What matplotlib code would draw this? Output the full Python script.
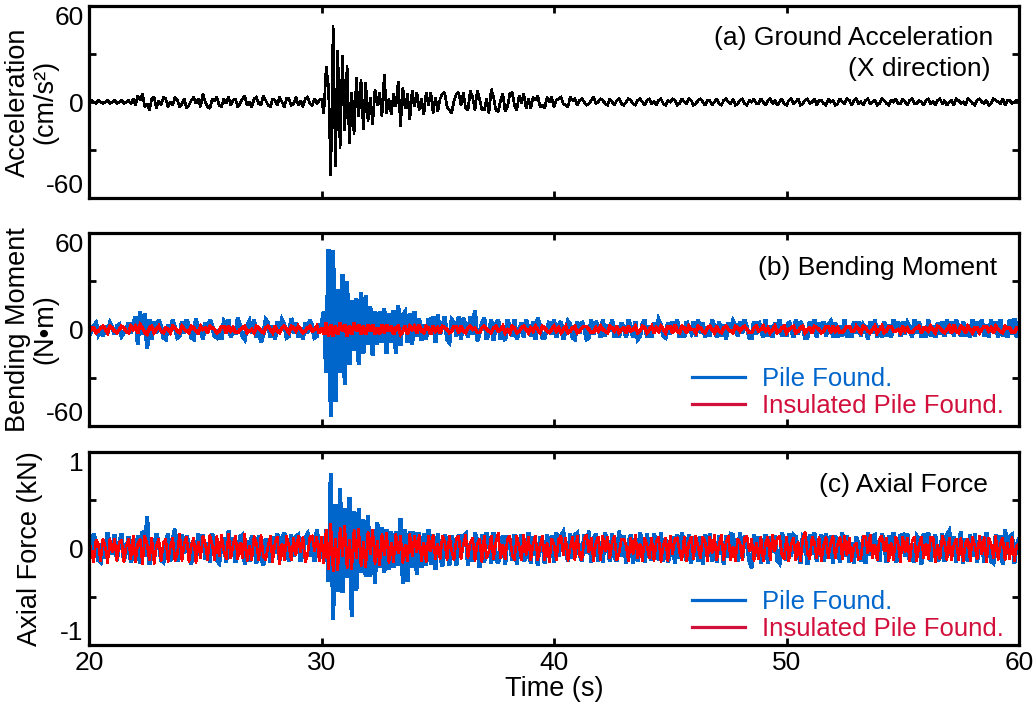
import numpy as np
import matplotlib
matplotlib.use("Agg")
import matplotlib.pyplot as plt
from matplotlib.lines import Line2D

plt.rcParams["font.family"] = ["Liberation Sans", "DejaVu Sans"]
plt.rcParams["font.size"] = 19

# Sampling of the records (s)
T_START = 20.0
T_STEP = 0.1

# (a) ground acceleration, X direction (cm/s^2), one row per second
GROUND_ACC = [
    0, 1, 0, -1, 1, 0, -1, 0, 1, -1,
    0, 1, -1, 0, 1, -1, 0, 1, -1, 2,
    -2, 4, 1, 5, -3, -1, -5, 2, 3, -4,
    1, -2, 3, 2, -3, 0, -2, 3, 1, -3,
    -1, 2, -4, -2, 1, 3, -1, 2, -3, 5,
    0, -3, -4, 2, 1, 3, -2, -3, 2, -1,
    3, -2, 1, 2, -3, -1, 2, 4, -2, 0,
    -3, 2, 3, -1, -2, 4, 1, -2, -3, 2,
    1, -2, 3, 0, -3, 2, 2, -2, -1, 3,
    -2, 1, -3, 2, 3, -1, -2, 2, -1, 1,
    2, -7, 22, 10, -46, 48, -40, 32, -29, 29,
    -18, 23, -26, 6, -20, 15, -9, 14, -17, 12,
    -12, 3, -14, 8, -2, 6, -9, 17, -7, 2,
    -8, 5, -3, 13, -15, 9, -4, 5, -11, 7,
    -3, 6, -5, 2, -8, 6, -2, 6, -7, 3,
    -6, 2, 5, 6, -3, -5, -7, 1, 5, 6,
    -2, 6, -4, -5, 7, 3, -5, 7, 2, -5,
    -5, 2, -7, 8, 3, -5, -6, 1, 5, -6,
    -3, 5, 6, -2, -5, 4, -1, 5, -4, 2,
    -4, 3, 1, 4, -3, -2, -4, 3, 0, 3,
    -3, 1, 2, 3, -1, -2, -3, 3, 1, 2,
    -2, 1, 2, 0, -2, -1, 1, 3, -1, 0,
    2, 1, -1, -2, 2, 0, -2, 1, 2, -1,
    -2, 0, 2, 1, -1, -2, 1, 2, 0, -2,
    1, 2, -1, 0, -2, 1, 2, -1, -2, 1,
    0, 2, 1, -2, -1, 2, 0, -1, 2, 1,
    -2, -1, 1, 2, 0, -2, 1, 1, -2, 0,
    2, -1, -2, 1, 2, 0, -1, 2, -2, -1,
    1, 2, -1, -2, 1, 0, 2, -1, -1, 2,
    0, -2, 1, 2, -1, 1, -2, 0, 2, -1,
    -2, 1, 2, -1, 0, 2, -2, -1, 1, 2,
    -1, 0, 2, -2, 1, 1, -1, -2, 2, 0,
    1, -2, -1, 2, 0, -1, 2, 1, -2, 1,
    2, -1, 0, -2, 1, 2, -1, 0, 1, -2,
    -1, 2, 1, -1, -2, 1, 0, 2, -1, -1,
    2, 0, -2, 1, 2, -1, -1, 1, 0, -2,
    1, 2, -1, 0, -2, 1, 2, -1, 1, -2,
    0, 1, -2, 2, 1, -1, 0, -2, 2, 1,
    -1, -2, 1, 2, 0, -1, 1, -2, -1, 2,
    1, 0, -1, 2, -2, 1, 1, -1, 0, 1,
    0,
]

# (b) bending moment (N*m): conventional pile foundation
BM_PILE = [
    3, -1, 2, 4, -3, 0, -4, 2, -2, 4,
    1, -3, 2, 3, -4, -2, 0, 4, -2, 3,
    8, -9, 11, -3, 10, -12, 6, -6, 5, -2,
    6, 2, -5, -6, 3, -1, 6, 1, -5, -4,
    5, -2, 6, 2, -5, -6, 7, -3, 2, -6,
    4, -1, 6, 2, -4, -5, 0, -6, 5, 3,
    6, -5, 1, -3, 7, 2, -4, -6, 2, 5,
    -2, 6, -5, 1, -8, -3, 6, 4, -5, 2,
    -6, 5, -1, 6, 3, -5, -4, 7, -2, 4,
    -5, 1, -6, 4, -2, 6, 2, -5, -4, 3,
    3, 11, -27, 50, -54, 49, -45, 25, -27, 34,
    -34, 30, -22, 18, -13, 19, -22, 23, -15, 21,
    -9, 14, -16, 11, -9, 11, -8, 13, -15, 10,
    -8, 12, -15, 15, -10, 9, 11, -8, 10, -9,
    11, -4, 7, -7, 3, -6, 7, -2, 8, -8,
    9, -3, 2, 8, -6, -8, 6, 4, -4, 8,
    -6, 7, 2, -5, 8, -3, 12, -7, -2, 4,
    7, -6, -2, 6, -7, 3, 6, -6, 1, -7,
    6, 2, -4, 6, -6, -1, 4, -5, 6, 1,
    -4, 5, -6, 7, 2, -5, -5, 1, 5, -3,
    6, -5, 2, 5, -6, -1, 5, 3, -5, -6,
    5, -2, 5, 1, -6, -5, 6, -3, 5, 2,
    -5, 6, -4, 3, -1, 6, -5, 2, -5, 4,
    1, -5, 6, 2, -5, 5, -6, -4, 3, 6,
    -5, 2, -5, 4, -1, 6, 3, -4, -5, 4,
    -3, 5, -1, 6, -5, 2, -5, 5, 1, -2,
    5, -4, 6, -2, 4, -5, 1, -4, 6, 2,
    -5, 5, -4, 3, -6, 4, -1, 5, 2, -4,
    5, -2, 6, 1, -5, -5, 5, -3, 5, 1,
    -5, 6, -4, 2, -5, 4, -2, 6, -4, 3,
    -4, 5, 1, -5, 6, -3, 5, 2, -5, -5,
    5, -2, 6, -5, 4, -1, 5, -4, 3, 5,
    -5, 4, -5, 2, -4, 6, -5, 1, -5, 5,
    -2, 5, -4, 3, 1, -6, 5, -2, 6, -5,
    2, -5, 5, -4, 3, -5, 6, -1, 5, -4,
    5, -3, 4, 1, -5, 6, -2, 5, -5, 1,
    -5, 6, -4, 2, -5, 4, -3, 5, -4, 6,
    -2, 5, -4, 6, 1, -4, 5, -4, 3, -5,
    6, -4, 5, -2, 6, -4, 3, -5, 6, -1,
    5, -5, 6, -4, 2, -5, 6, -3, 7, -5,
    4,
]

# (b) bending moment (N*m): insulated pile foundation
BM_INSULATED = [
    2, 0, 1, -2, -1, 1, 2, 0, -2, 2,
    1, -1, -2, 0, 2, 1, -1, -2, 2, 0,
    2, -2, 3, 1, -2, -3, 1, 2, -2, 0,
    2, -1, -2, 1, 0, -2, 2, 1, -1, -2,
    2, 0, -1, -2, 2, 1, -1, -2, 2, 0,
    1, -2, 2, 1, 0, -2, -1, 2, 2, -2,
    2, -1, 1, -2, -2, 0, 1, 2, -2, -1,
    0, -2, 2, 1, -1, -2, 1, 2, 0, -2,
    2, -1, -2, 1, 2, 0, -2, 2, 1, -1,
    2, 0, -2, -1, 1, 2, -1, 0, 2, -2,
    1, -3, 4, -4, 3, -4, 2, -3, 4, -1,
    3, -4, 2, -3, 4, -1, 3, -3, 2, -3,
    3, -1, 3, -3, 1, -3, 3, -2, 3, -1,
    2, -3, 1, 2, -3, -1, 2, -3, 2, 0,
    2, -2, 3, -1, -2, 2, 1, -3, 2, -1,
    1, -2, 2, 1, 0, -2, -1, 2, 2, -2,
    2, -1, -2, 1, 2, 0, 1, -2, -2, 1,
    2, 0, -1, -2, 1, 2, -1, 0, 2, -2,
    0, -2, 2, 1, -2, -1, 1, 2, 0, -2,
    1, -1, 2, 0, -2, 2, 1, -1, -2, 0,
    2, -1, 1, -2, 0, 2, -2, -1, 1, 2,
    -2, -1, 1, 2, 2, 0, -2, -2, 1, -1,
    2, 0, -1, -2, 2, 1, -1, 2, -2, 0,
    1, -2, 2, -1, 0, 2, -2, -1, 2, 1,
    -2, 0, 2, -2, 1, -1, 2, 0, -2, 2,
    2, -2, 3, -1, -2, 2, 1, -2, 2, 0,
    0, -2, 2, 1, -1, -2, 1, 2, 0, -2,
    2, -1, -2, 1, 2, 0, -1, -2, 2, 1,
    -1, 1, 2, 0, -2, -2, 1, 2, -1, 0,
    2, -1, 1, -2, 0, 2, -2, -1, 1, 2,
    -2, 0, 1, 2, -2, -1, 1, 2, -2, 0,
    1, -2, 2, 1, 0, -2, -1, 2, 2, -2,
    2, -1, 1, -2, -2, 0, 2, 2, -1, -1,
    2, 0, -2, 2, 1, -1, -2, 0, 2, -2,
    0, 2, -2, -1, 2, 2, -1, -1, 0, -2,
    2, -1, 1, -2, -2, 0, 1, 2, -2, 1,
    1, -1, 2, 0, -2, 2, 1, -1, -2, 0,
    2, -2, 3, -1, -2, 2, 1, -2, 2, 0,
    -2, 1, 1, -2, 0, 2, 2, -1, 1, -2,
    2, 0, -1, -2, 2, 1, 1, -2, -2, 1,
    1,
]

# (c) axial force (kN): conventional pile foundation
AXIAL_PILE = [
    .12, -.04, .15, .06, -.12, -.14, .09, -.1, .16, .03,
    -.06, .14, -.12, .05, .15, -.13, -.02, .12, -.14, .07,
    -.12, .13, -.15, .18, -.08, .33, -.16, .1, -.12, .15,
    .05, -.12, -.14, .04, .15, -.13, .09, .2, -.13, -.06,
    .14, -.05, .13, .04, -.16, .08, -.13, .15, -.03, .14,
    -.11, .06, -.14, .15, .09, -.12, -.15, .04, .11, -.14,
    .18, -.07, .11, -.14, -.03, .12, .14, -.16, .08, -.13,
    .13, .04, -.15, .13, -.09, -.17, .1, .06, -.14, .12,
    -.05, .15, -.12, .1, .16, -.04, -.13, .14, -.08, .12,
    .14, -.13, -.06, .11, .15, -.08, .12, -.13, .2, -.05,
    .08, -.12, .2, -.34, .78, -.74, .46, -.45, .62, -.46,
    .41, -.3, .53, -.7, .38, -.43, .41, -.25, .3, -.29,
    .34, -.29, .2, -.36, .27, -.2, .22, -.25, .2, -.22,
    .18, -.2, .17, -.18, .31, -.36, .2, -.34, .18, -.2,
    .17, -.27, .16, -.2, .15, -.18, .2, -.16, .14, -.22,
    .15, -.06, -.18, .14, .09, -.17, .13, .04, -.17, .14,
    -.08, .13, .15, -.17, .05, -.13, .16, .09, -.2, .14,
    -.14, .16, .06, -.15, .16, -.1, -.15, .04, .13, -.16,
    .13, .07, -.12, .14, -.16, .05, .14, -.13, -.09, .16,
    -.15, .12, .04, -.17, .12, .08, -.15, .14, -.06, .13,
    -.14, .16, -.08, .13, .17, -.03, -.13, .15, -.1, .14,
    .16, -.06, -.13, .14, -.05, .18, -.14, .09, .15, -.13,
    .07, -.14, .16, .05, -.13, .15, -.09, -.13, .18, -.08,
    .13, -.15, .05, .14, -.15, .1, -.13, .16, .04, -.14,
    .15, -.08, -.12, .15, .06, -.12, .16, -.13, .09, -.14,
    -.05, .12, -.15, .14, -.1, .16, .04, -.12, .14, -.15,
    .12, .06, -.13, .12, -.16, .14, -.08, .15, -.13, .04,
    -.14, .13, .05, -.16, .13, -.09, .15, .14, -.07, -.13,
    .16, -.1, .13, .05, -.12, -.2, .14, -.08, .12, -.15,
    .06, .14, -.15, .12, -.04, .13, -.12, -.15, .16, .07,
    -.12, .15, -.08, .14, .12, -.04, -.15, .12, .09, -.16,
    .14, -.06, .16, -.13, .05, .14, -.13, .15, -.1, .13,
    -.15, .13, .04, -.14, .16, -.08, .13, -.14, .06, -.15,
    .12, .05, -.13, .12, -.15, .16, -.07, .13, .14, -.09,
    -.13, .15, .06, -.14, .13, -.04, .16, -.14, -.1, .13,
    .14, -.08, .15, -.13, .05, -.14, .13, .1, -.16, .15,
    -.06, .16, -.13, .05, .14, -.13, -.09, .15, -.13, .14,
    .18, -.07, .12, -.14, .04, .17, -.15, .1, -.13, .14,
    -.08, .15, -.14, .06, .12, -.14, .16, .05, -.13, -.15,
    .14, -.09, .13, -.16, .2, -.06, .12, .14, -.15, .04,
    .1,
]

# (c) axial force (kN): insulated pile foundation
AXIAL_INSULATED = [
    .1, -.03, -.14, .09, .05, -.13, .1, .02, -.15, .1,
    -.04, .1, -.13, .06, .09, -.14, .02, .1, -.11, .13,
    -.14, .05, .1, -.17, .13, .04, -.12, .11, -.16, .03,
    .1, -.13, .06, .1, -.14, .02, .11, -.13, -.05, .15,
    -.13, .06, .12, -.14, .03, .11, -.15, .07, -.1, .13,
    .05, -.12, .14, .04, -.12, .13, -.08, .14, -.02, -.11,
    .15, -.1, .04, .13, -.11, .06, -.1, .15, -.13, .03,
    -.12, .13, .05, -.12, .14, -.08, -.12, .02, .13, -.14,
    .06, .12, -.16, .05, -.12, .13, .03, -.12, .11, -.07,
    .13, -.04, .12, -.14, -.07, .12, .13, -.03, .12, -.13,
    .12, -.15, .2, -.22, .26, -.24, .1, -.23, .22, -.08,
    .24, -.21, .09, -.22, .2, -.1, .21, -.19, .07, -.2,
    .18, -.06, .2, -.16, .08, -.18, .15, -.07, .16, -.15,
    .06, -.14, .15, -.05, .13, -.15, .04, -.13, .15, -.08,
    .13, -.04, .14, -.13, .06, -.14, .13, -.03, .14, -.11,
    .05, -.11, .13, .07, -.12, .13, -.02, -.12, .1, .13,
    -.11, .04, .14, -.1, .06, .11, -.13, .05, .1, -.14,
    .13, -.1, -.03, .13, -.11, .06, .16, -.1, .04, -.11,
    .1, .13, -.06, -.12, .13, .02, -.12, .14, -.07, .12,
    -.12, .05, .13, -.12, .03, .13, -.12, .06, -.14, .1,
    .04, -.12, .1, .13, -.07, .11, -.13, .02, .12, -.12,
    .13, -.06, -.12, .1, .14, -.04, .11, -.13, .05, .12,
    -.12, .13, -.03, .12, -.1, .06, .13, -.12, -.05, .1,
    .1, .04, -.13, .11, -.06, .14, -.1, .05, -.13, .11,
    .03, -.1, .11, -.13, .07, .12, -.14, .03, .11, -.13,
    .13, -.06, .1, .11, -.04, -.12, .12, -.13, .06, .12,
    -.11, .13, .02, -.1, .12, .07, -.13, .12, -.05, .14,
    -.12, .04, .14, -.12, .06, .13, -.12, .02, -.13, .1,
    .05, -.12, .11, .13, -.03, .1, -.13, .06, -.11, .12,
    -.13, .05, .12, -.12, .14, -.03, .1, .13, -.06, -.11,
    .12, -.13, .04, .11, -.12, .07, -.13, .1, .17, -.05,
    -.11, .12, .06, -.1, .12, -.13, .03, .12, -.1, .06,
    .13, -.1, .05, .12, -.11, .13, -.07, .11, -.13, .02,
    .06, -.11, -.1, .13, .12, -.05, .14, -.1, .04, -.12,
    .1, .13, -.03, .11, -.13, .06, -.12, .12, .05, -.14,
    .12, -.04, .11, -.13, .07, .12, -.13, .03, .12, -.1,
    .05, -.11, .12, .12, -.14, .04, -.11, .13, .06, -.12,
    .11, -.12, .04, .1, -.12, .11, -.13, .05, .1, -.13,
    .12, .03, -.11, .13, -.06, .12, -.14, .11, .04, -.1,
    .13, -.12, .05, .11, -.12, .06, -.11, .12, -.13, .03,
    .05,
]

X_TICKS = [20, 30, 40, 50, 60]
ACC_TICKS = [-60, -30, 0, 30, 60]
ACC_TICK_LABELS = ["-60", "", "0", "", "60"]
BM_TICKS = [-60, -30, 0, 30, 60]
BM_TICK_LABELS = ["-60", "", "0", "", "60"]
AX_TICKS = [-1, -0.5, 0, 0.5, 1]
AX_TICK_LABELS = ["-1", "", "0", "", "1"]

SERIES_NAMES = ["Pile Found.", "Insulated Pile Found."]
BLUE = "#0066CC"
RED = "#FF0000"
LEGEND_RED = "#D2103C"

t = T_START + T_STEP * np.arange(len(GROUND_ACC))

W, H = 1035, 707
fig = plt.figure(figsize=(W / 100, H / 100), dpi=100)


def panel(top_px, bottom_px):
    return fig.add_axes([89 / W, 1 - bottom_px / H, 930 / W, (bottom_px - top_px) / H])


def style(ax, yticks, ylabels, ylim, show_x):
    ax.set_xlim(20, 60)
    ax.set_ylim(*ylim)
    ax.set_xticks(X_TICKS)
    ax.set_yticks(yticks)
    ax.set_yticklabels(ylabels)
    if not show_x:
        ax.set_xticklabels([])
    ax.tick_params(direction="in", length=5, width=2, top=True, right=True,
                   labelsize=19, pad=4)
    for s in ax.spines.values():
        s.set_linewidth(2.3)
    labs = ax.get_yticklabels()
    labs[-1].set_verticalalignment("top")
    labs[0].set_verticalalignment("bottom")


def side_label(ax, lines, centers_px):
    # y-axis titles, one rotated text per line, centred at the given pixel columns
    for txt, xc in zip(lines, centers_px):
        ax.text((xc - 89) / 930, 0.5, txt, transform=ax.transAxes, rotation=90,
                ha="center", va="center", fontsize=19.5)


ax_a = panel(6, 198)
ax_b = panel(233, 426)
ax_c = panel(452, 645)

trace = dict(antialiased=False, solid_joinstyle="miter")

# (a) ground acceleration
ax_a.plot(t, GROUND_ACC, color="black", lw=1.2, **trace)
style(ax_a, ACC_TICKS, ACC_TICK_LABELS, (-60, 60), False)
side_label(ax_a, ["Acceleration", "(cm/s²)"], [18, 45])
ax_a.text(0.972, 0.835, "(a) Ground Acceleration", transform=ax_a.transAxes,
          ha="right", va="center")
ax_a.text(0.969, 0.672, "(X direction)", transform=ax_a.transAxes,
          ha="right", va="center")

# (b) bending moment
ax_b.plot(t, BM_PILE, color=BLUE, lw=2.3, **trace)
ax_b.plot(t, BM_INSULATED, color=RED, lw=1.8, **trace)
style(ax_b, BM_TICKS, BM_TICK_LABELS, (-60, 60), False)
side_label(ax_b, ["Bending Moment", "(N•m)"], [18, 45])
ax_b.text(0.977, 0.82, "(b) Bending Moment", transform=ax_b.transAxes,
          ha="right", va="center")

# (c) axial force
ax_c.plot(t, AXIAL_PILE, color=BLUE, lw=2.3, **trace)
ax_c.plot(t, AXIAL_INSULATED, color=RED, lw=1.2, **trace)
style(ax_c, AX_TICKS, AX_TICK_LABELS, (-1, 1), True)
side_label(ax_c, ["Axial Force (kN)"], [30])
ax_c.set_xlabel("Time (s)", fontsize=19.5, labelpad=1)
ax_c.text(0.967, 0.83, "(c) Axial Force", transform=ax_c.transAxes,
          ha="right", va="center")

handles = [Line2D([], [], color=BLUE, lw=2.3), Line2D([], [], color=LEGEND_RED, lw=2.3)]
for ax, ytop in ((ax_b, 0.305), (ax_c, 0.285)):
    ax.legend(handles, SERIES_NAMES, loc="upper left", bbox_to_anchor=(0.648, ytop),
              frameon=False, borderpad=0, borderaxespad=0, handlelength=2.06,
              handletextpad=0.66, labelspacing=0.12, fontsize=18.5,
              labelcolor=[BLUE, LEGEND_RED])

fig.savefig("out.png", dpi=100)
